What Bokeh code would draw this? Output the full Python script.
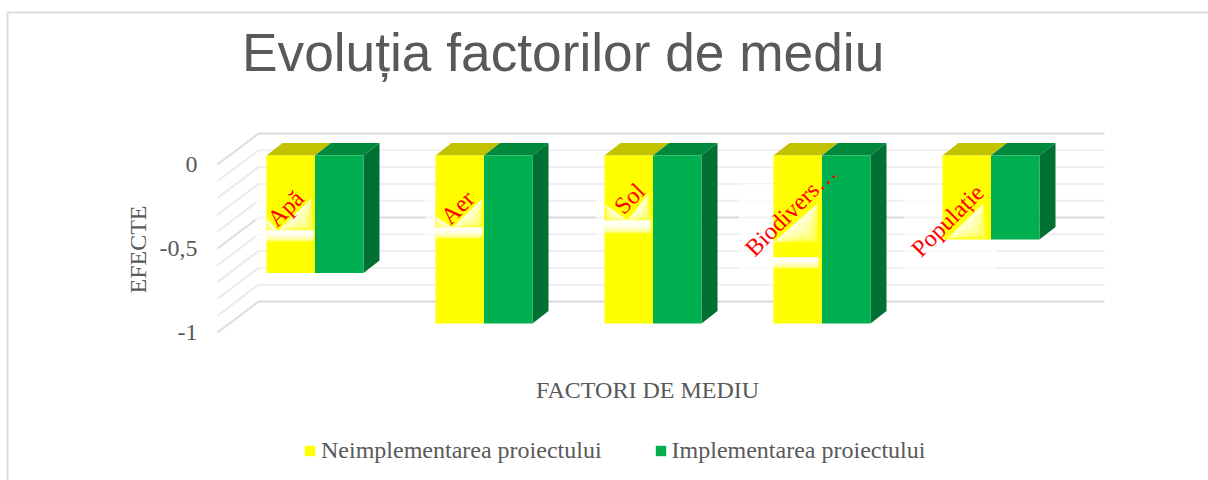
from bokeh.embed import file_html
from bokeh.resources import INLINE
from bokeh.plotting import figure
from bokeh.models import Range1d, Legend, LegendItem
from bokeh.core.properties import value

# ---------- data ----------
categories = ["Apă", "Aer", "Sol", "Biodivers…", "Populație"]
neimplementare = [-0.7, -1, -1, -1, -0.5]
implementare = [-0.7, -1, -1, -1, -0.5]
y_ticks = [0, -0.5, -1]
y_tick_labels = ["0", "-0,5", "-1"]
grid_values = [0, -0.1, -0.2, -0.3, -0.4, -0.5, -0.6, -0.7, -0.8, -0.9, -1]
title = "Evoluția factorilor de mediu"
x_title = "FACTORI DE MEDIU"
y_title = "EFECTE"
series_names = ["Neimplementarea proiectului", "Implementarea proiectului"]

# ---------- geometry: page pixels <-> data ----------
W, H = 1208, 480
PX_X, PX_Y = 169.0, 168.0      # pixels per category / per unit of value
X0, Y0 = 314.5, 155.0          # page position of category 0 centre / of value 0


def dx(px):
    return px / PX_X


def dy(px):
    return px / PX_Y


def X(px):
    return (px - X0) / PX_X


def Y(py):
    return -(py - Y0) / PX_Y


p = figure(width=W, height=H, output_backend="svg", toolbar_location=None,
           x_range=Range1d(X(0), X(W)), y_range=Range1d(Y(H), Y(0)),
           min_border=0, outline_line_color=None, tools="")
p.axis.visible = False
p.grid.visible = False

SERIF = value("Liberation Serif")
GREY = "#595959"

# chart frame
p.line([X(7), X(7), X(1208)], [Y(480), Y(12), Y(12)], line_color="#dcdcdc", line_width=2)

# walls: back gridlines + left diagonals
FRONT_LEFT, BACK_LEFT, BACK_RIGHT = 217.0, 258.0, 1104.0
DIAG_DROP = 31.0
for v in grid_values:
    strong = v in y_ticks
    col = "#d9d9d9" if strong else "#efefef"
    yb = v + dy(22)
    p.line([X(BACK_LEFT), X(BACK_RIGHT)], [yb, yb], line_color=col, line_width=2)
    p.line([X(FRONT_LEFT), X(BACK_LEFT)], [yb - dy(DIAG_DROP), yb],
           line_color="#dddddd" if strong else "#ebebeb", line_width=2)

# white wash that label backgrounds leave over the gridlines
wash = [(255, 266, 190, 248), (425, 435, 190, 240), (596, 604, 190, 240),
        (738, 773, 183, 278), (903, 942, 186, 240), (903, 996, 240, 278)]
for l, r, t, b in wash:
    p.quad(left=X(l), right=X(r), top=Y(t), bottom=Y(b), fill_color="white", fill_alpha=0.7, line_color=None)

# 3D columns
HALF = 48.5
DEPTH_X, DEPTH_Y = 16.0, 12.5
for i, (a, b) in enumerate(zip(neimplementare, implementare)):
    l, m, r = i - dx(HALF), float(i), i + dx(HALF)
    ox, oy = dx(DEPTH_X), dy(DEPTH_Y)
    p.patch([l, m, m + ox, l + ox], [0, 0, oy, oy], fill_color="#c2c200", line_color=None)
    p.patch([m, r, r + ox, m + ox], [0, 0, oy, oy], fill_color="#00893d", line_color=None)
    p.patch([r, r + ox, r + ox, r], [0, oy, b + oy, b], fill_color="#007033", line_color=None)

yellow_r = p.quad(left=[i - dx(HALF) for i in range(5)], right=[float(i) for i in range(5)],
                  top=[0] * 5, bottom=neimplementare, fill_color="#ffff00", line_color=None)
green_r = p.quad(left=[float(i) for i in range(5)], right=[i + dx(HALF) for i in range(5)],
                 top=[0] * 5, bottom=implementare, fill_color="#00b050", line_color=None)

# glow artefacts under rotated labels: (apex x, apex y, top x, top y, right x, left x, left y, band top, band bottom)
glows = [
    (278, 230, 311, 198, 313, 266, 218, 230, 241),
    (452, 227, 482, 198, 482, 435, 216, 227, 238),
    (627, 220, 648, 193, 650, 605, 204, 220, 233),
    (773, 242, 817, 203, 818, None, None, 257, 268),
    (947, 238, 983, 203, 986, None, None, None, None),
]
STEPS = 8
for ax, ay, tx, ty, rx, lx, ly, bt, bb in glows:
    for s in range(STEPS):
        f = (s + 1) / STEPS
        # triangle along the diagonal edge; third vertex slides from the corner to the edge
        mx, my = (ax + tx) / 2, (ay + ty) / 2
        cx, cy = mx + (rx - mx) * f, my + (ay - my) * f
        p.patch([X(ax), X(tx), X(cx)], [Y(ay), Y(ty), Y(cy)], fill_color="white", fill_alpha=0.2, line_color=None)
        if lx is not None:
            mlx, mly = (ax + lx) / 2, (ay + ly) / 2
            c2x, c2y = mlx + (lx - mlx) * f, mly + (ay - mly) * f
            p.patch([X(ax), X(lx), X(c2x)], [Y(ay), Y(ly), Y(c2y)], fill_color="white", fill_alpha=0.2, line_color=None)
        if bt is not None:
            p.quad(left=X(rx - 47), right=X(rx), top=Y(bt), bottom=Y(bt + (bb - bt) * f),
                   fill_color="white", fill_alpha=0.35, line_color=None)

# rotated red category labels (centre positions in page pixels)
label_x = [285, 457, 629, 790, 947]
label_y = [208, 207, 198, 210, 220]
p.text(x=[X(v) for v in label_x], y=[Y(v) for v in label_y], text=categories, angle=45, angle_units="deg",
       text_color="#ff0000", text_font=SERIF, text_font_size="24px", text_align="center", text_baseline="middle")

# value tick labels
p.text(x=[X(197)] * 3, y=[v - dy(9) for v in y_ticks], text=y_tick_labels, text_color=GREY, text_font=SERIF,
       text_font_size="24px", text_align="right", text_baseline="middle")

# titles
p.text(x=[X(241.5)], y=[Y(52)], text=[title], text_color=GREY, text_font=value("Liberation Sans"),
       text_font_size="53.25px", text_align="left", text_baseline="middle")
p.text(x=[X(647)], y=[Y(389)], text=[x_title], text_color=GREY, text_font=SERIF, text_font_size="24px",
       text_align="center", text_baseline="middle")
p.text(x=[X(137)], y=[Y(249)], text=[y_title], angle=90, angle_units="deg", text_color=GREY, text_font=SERIF,
       text_font_size="24px", text_align="center", text_baseline="middle")

legend = Legend(items=[LegendItem(label=series_names[0], renderers=[yellow_r]),
                       LegendItem(label=series_names[1], renderers=[green_r])],
                orientation="horizontal", location=(303, 16), background_fill_alpha=0, border_line_color=None,
                glyph_width=13, glyph_height=13, label_standoff=5, spacing=52, padding=0, margin=0,
                label_text_font="Liberation Serif", label_text_font_size="24px", label_text_color=GREY)
p.add_layout(legend, "center")

open("out.html", "w").write(file_html(p, INLINE))
